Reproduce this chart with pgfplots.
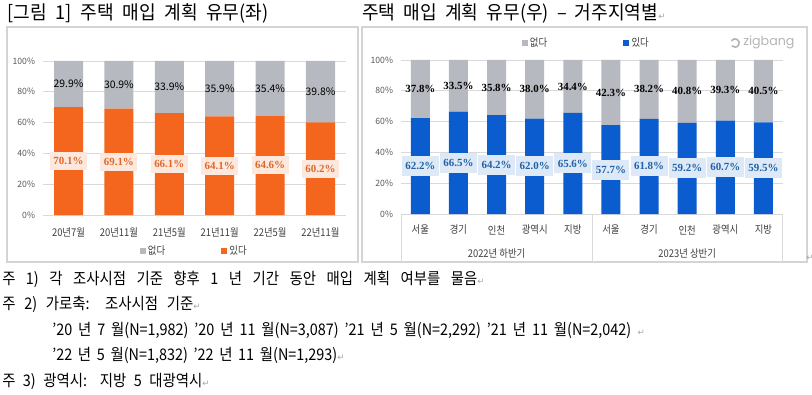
\documentclass[border=0pt]{standalone}
\usepackage{pgfplots}
\pgfplotsset{compat=1.18}
\usepackage{fontspec}
\setmainfont{Noto Sans CJK KR}
\newfontfamily\krn[FakeStretch=0.88]{Noto Sans CJK KR}
\newfontfamily\krm[FakeStretch=0.9]{Noto Sans CJK KR}
\newfontfamily\krt[FakeStretch=0.95]{Noto Sans CJK KR}
\newfontfamily\ser{Liberation Serif}
\newfontfamily\sym{DejaVu Sans}
\newfontfamily\pop{Poppins}
\definecolor{orbar}{HTML}{F4661E}
\definecolor{grbar}{HTML}{B7B9C0}
\definecolor{blbar}{HTML}{0B5CCF}
\definecolor{peach}{HTML}{FCE8DC}
\definecolor{ltblue}{HTML}{DDE9F7}
\definecolor{ortxt}{HTML}{E0672A}
\definecolor{bltxt}{HTML}{1F62A8}
\definecolor{gridc}{HTML}{D9D9D9}
\definecolor{boxc}{HTML}{D4D4D4}
\definecolor{tickc}{HTML}{595959}
\definecolor{labc}{HTML}{404040}
\definecolor{pmark}{HTML}{A6A6A6}
\definecolor{logoc}{HTML}{B5B5B5}
\newcommand{\pmk}{{\sym\color{pmark}\fontsize{6.5}{7}\selectfont ↵}}
\pgfplotstableread{
x yes no
0 70.1 29.9
1 69.1 30.9
2 66.1 33.9
3 64.1 35.9
4 64.6 35.4
5 60.2 39.8
}\lefttab
\pgfplotstableread{
x yes no
0 62.2 37.8
1 66.5 33.5
2 64.2 35.8
3 62.0 38.0
4 65.6 34.4
5 57.7 42.3
6 61.8 38.2
7 59.2 40.8
8 60.7 39.3
9 59.5 40.5
}\righttab
\pgfplotsset{
  basax/.style={scale only axis, height=115.5pt, ymin=0, ymax=100, enlargelimits=false, clip=false},
  barax/.style={basax, ybar stacked,
    ytick={0,20,40,60,80,100},
    yticklabels={0\%,20\%,40\%,60\%,80\%,100\%},
    ymajorgrids, grid style={draw=gridc, line width=0.6pt},
    axis line style={draw=none}, major tick style={draw=none},
    yticklabel style={anchor=east, inner sep=0pt, xshift=-6pt, font=\fontsize{6.5}{7}\selectfont, text=tickc},
    legend style={draw=none, fill=none, legend columns=2, font=\krn\fontsize{8}{9}\selectfont, text=labc},
  },
}
\begin{document}
\begin{tikzpicture}
\useasboundingbox (0,0) rectangle (609pt,-296.25pt);
\begin{scope}[x=0.75pt,y=-0.75pt]
\fill[white] (0,0) rectangle (812,395);
% titles
\node[anchor=west, inner sep=0pt, font=\krt\fontsize{14.3}{16}\selectfont] at (7.3,13.5) {\makebox[195.75pt][s]{[그림 1] 주택 매입 계획 유무(좌)}};
\node[anchor=west, inner sep=0pt, font=\krt\fontsize{14.3}{16}\selectfont] at (362,13.5) {\makebox[222pt][s]{주택 매입 계획 유무(우) – 거주지역별}\pmk};
% boxes
\draw[boxc, line width=0.8pt] (7,27) rectangle (358,262);
\draw[boxc, line width=0.8pt] (362,27) rectangle (807,262);
\node[anchor=west, inner sep=0pt] at (806,258) {\pmk};
% logo
\draw[logoc, line width=1.2pt] (735,43) ++(210:4.2) arc[start angle=210, end angle=500, radius=4.2];
\node[anchor=west, inner sep=0pt, font=\pop\fontsize{9.5}{10}\selectfont, text=logoc] at (743,42.5) {zigbang};
% notes
\node[anchor=west, inner sep=0pt, font=\krm\fontsize{12}{13}\selectfont] at (2,279) {\makebox[356.25pt][s]{주 1) 각 조사시점 기준 향후 1 년 기간 동안 매입 계획 여부를 물음}\pmk};
\node[anchor=west, inner sep=0pt, font=\krm\fontsize{12}{13}\selectfont] at (2,304) {\makebox[143.25pt][s]{주 2) 가로축: 조사시점 기준}\pmk};
\node[anchor=west, inner sep=0pt, font=\krm\fontsize{12}{13}\selectfont] at (52,330) {\makebox[434.25pt][s]{’20 년 7 월(N=1,982) ’20 년 11 월(N=3,087) ’21 년 5 월(N=2,292) ’21 년 11 월(N=2,042)}\ \ \pmk};
\node[anchor=west, inner sep=0pt, font=\krm\fontsize{12}{13}\selectfont] at (52,355) {\makebox[213.75pt][s]{’22 년 5 월(N=1,832) ’22 년 11 월(N=1,293)}\pmk};
\node[anchor=west, inner sep=0pt, font=\krm\fontsize{12}{13}\selectfont] at (2,381) {\makebox[150pt][s]{주 3) 광역시: 지방 5 대광역시}\pmk};
\end{scope}

% ---------- left chart ----------
\begin{axis}[barax, at={(32.475pt,-161.25pt)}, anchor=south west,
  width=226.8pt, bar width=21.75pt, xmin=-0.5, xmax=5.5,
  xtick={0,...,5},
  xticklabels={20년7월,20년11월,21년5월,21년11월,22년5월,22년11월},
  xticklabel style={anchor=center, inner sep=0pt, yshift=-12.75pt, font=\krn\fontsize{8}{9}\selectfont, text=labc},
  legend style={at={(0.5,-0.235)}, anchor=center, /tikz/every even column/.append style={column sep=40pt}},
]
\addplot[fill=orbar, draw=none, forget plot] table[x=x, y=yes] {\lefttab};
\addplot[fill=grbar, draw=none, forget plot] table[x=x, y=no] {\lefttab};
\addlegendimage{legend image code/.code={\fill[grbar] (0pt,-1.9pt) rectangle (3.8pt,1.9pt);}}
\addlegendentry{없다}
\addlegendimage{legend image code/.code={\fill[orbar] (0pt,-1.9pt) rectangle (3.8pt,1.9pt);}}
\addlegendentry{있다}
\end{axis}
\begin{axis}[basax, hide axis, at={(32.475pt,-161.25pt)}, anchor=south west,
  width=226.8pt, xmin=-0.5, xmax=5.5]
\addplot[draw=none, mark=none, nodes near coords, point meta=explicit symbolic,
  nodes near coords style={anchor=center, inner sep=0pt, font=\fontsize{7.8}{8}\selectfont, text=black}]
  coordinates {(0,85.05)[29.9\%] (1,84.55)[30.9\%] (2,83.05)[33.9\%] (3,82.05)[35.9\%] (4,82.3)[35.4\%] (5,80.1)[39.8\%]};
\addplot[draw=none, mark=none, nodes near coords, point meta=explicit symbolic,
  nodes near coords style={anchor=center, inner sep=0pt, fill=peach, minimum width=27.75pt, minimum height=13.5pt, font=\ser\bfseries\fontsize{8.2}{9}\selectfont, text=ortxt}]
  coordinates {(0,35.05)[70.1\%] (1,34.55)[69.1\%] (2,33.05)[66.1\%] (3,32.05)[64.1\%] (4,32.3)[64.6\%] (5,30.1)[60.2\%]};
\end{axis}

% ---------- right chart ----------
\begin{axis}[barax, at={(300.975pt,-160.5pt)}, anchor=south west,
  width=285.9pt, bar width=14.25pt, xmin=-0.5, xmax=9.5,
  xtick={0,...,9},
  xticklabels={서울,경기,인천,광역시,지방,서울,경기,인천,광역시,지방},
  xticklabel style={anchor=center, inner sep=0pt, yshift=-12pt, font=\krn\fontsize{8}{9}\selectfont, text=labc},
  legend style={at={(0.486,1.11)}, anchor=center, /tikz/every even column/.append style={column sep=55pt}},
]
\addplot[fill=blbar, draw=none, forget plot] table[x=x, y=yes] {\righttab};
\addplot[fill=grbar, draw=none, forget plot] table[x=x, y=no] {\righttab};
\addlegendimage{legend image code/.code={\fill[grbar] (0pt,-1.9pt) rectangle (3.8pt,1.9pt);}}
\addlegendentry{없다}
\addlegendimage{legend image code/.code={\fill[blbar] (0pt,-1.9pt) rectangle (3.8pt,1.9pt);}}
\addlegendentry{있다}
\draw[gridc, line width=0.6pt] (axis cs:-0.5,0) -- ++(0pt,-36pt);
\draw[gridc, line width=0.6pt] (axis cs:4.5,0) -- ++(0pt,-36pt);
\draw[gridc, line width=0.6pt] (axis cs:9.5,0) -- ++(0pt,-36pt);
\node[font=\krn\fontsize{8}{9}\selectfont, text=labc, yshift=-29.3pt] at (axis cs:2,0) {2022년 하반기};
\node[font=\krn\fontsize{8}{9}\selectfont, text=labc, yshift=-29.3pt] at (axis cs:7,0) {2023년 상반기};
\end{axis}
\begin{axis}[basax, hide axis, at={(300.975pt,-160.5pt)}, anchor=south west,
  width=285.9pt, xmin=-0.5, xmax=9.5]
\addplot[draw=none, mark=none, nodes near coords, point meta=explicit symbolic,
  nodes near coords style={anchor=center, inner sep=0pt, font=\ser\bfseries\fontsize{8.2}{9}\selectfont, text=black}]
  coordinates {(0,81.1)[37.8\%] (1,83.25)[33.5\%] (2,82.1)[35.8\%] (3,81.0)[38.0\%] (4,82.8)[34.4\%] (5,78.85)[42.3\%] (6,80.9)[38.2\%] (7,79.6)[40.8\%] (8,80.35)[39.3\%] (9,79.75)[40.5\%]};
\addplot[draw=none, mark=none, nodes near coords, point meta=explicit symbolic,
  nodes near coords style={anchor=center, inner sep=0pt, fill=ltblue, minimum width=27.75pt, minimum height=15pt, font=\ser\bfseries\fontsize{8.2}{9}\selectfont, text=bltxt}]
  coordinates {(0,31.1)[62.2\%] (1,33.25)[66.5\%] (2,32.1)[64.2\%] (3,31.0)[62.0\%] (4,32.8)[65.6\%] (5,28.85)[57.7\%] (6,30.9)[61.8\%] (7,29.6)[59.2\%] (8,30.35)[60.7\%] (9,29.75)[59.5\%]};
\end{axis}
\end{tikzpicture}
\end{document}
